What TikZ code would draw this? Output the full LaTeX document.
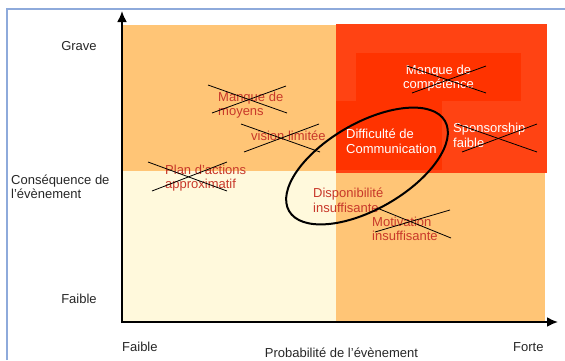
\documentclass[tikz,border=0pt]{standalone}
\usepackage{fontspec}
\setmainfont{Liberation Sans}
\usetikzlibrary{arrows.meta,calc}
\definecolor{frameblue}{HTML}{8EAADB}
\definecolor{lowrisk}{HTML}{FFF9DC}
\definecolor{midrisk}{HTML}{FFC576}
\definecolor{highrisk}{HTML}{FF4313}
\definecolor{topfill}{HTML}{FF3300}
\definecolor{riskred}{HTML}{C8382A}
\begin{document}
\begin{tikzpicture}[x=1pt,y=-1pt,>={Latex[length=11pt,width=10pt]},
  lbl/.style={font=\fontsize{13}{14.5}\selectfont,inner sep=0,align=left,
    anchor=base west},
  risk/.style={lbl,text=riskred},
  hot/.style={lbl,text=white},
  axlbl/.style={lbl,text=black!85},
  strike/.style={draw=black,line width=.8pt},
  axis/.style={->,line width=2pt}]
\useasboundingbox (0,0) rectangle (565,360);

% ============ FRAME ============
\draw[frameblue,line width=1.5pt] (7,360) -- (7,9) -- (565,9);

% ============ QUADRANTS ============
\fill[midrisk] (123,25) rectangle (336,171);
\fill[lowrisk] (123,171) rectangle (336,321);
\fill[highrisk] (336,24) rectangle (547,173);
\fill[midrisk] (336,173) rectangle (545,321);
\fill[topfill] (356,53) rectangle (521,101);
\fill[topfill] (336,101) rectangle (442,170);

% ============ AXES ============
\coordinate (o) at (122,323);
\coordinate (ytop) at (122,11);
\coordinate (xend) at (558,322);
\draw[axis] (o) -- (ytop);
\draw[axis] ($(o)+(-1,-1)$) -- (xend);
\node[axlbl,anchor=base] (grave) at (79,50.5) {Grave};
\node[axlbl] (csq) at (11,198.5) {Conséquence de\\l’évènement};
\node[axlbl,anchor=base] (yfaible) at (79,303) {Faible};
\node[axlbl] (xfaible) at (122,351) {Faible};
\node[axlbl,anchor=base] (proba) at (341.5,357) {Probabilité de l’évènement};
\node[axlbl] (forte) at (513,351.5) {Forte};

% ============ RISKS ============
% (multi-line nodes sit on the baseline of their last line)
\node[risk] (moyens) at (218,115.5) {Manque de\\moyens};
\node[risk] (vision) at (251,140) {vision limitée};
\node[risk] (plan) at (165,188.5) {Plan d’actions\\approximatif};
\node[hot,align=center,anchor=base] (compet) at (438.5,88.5) {Manque de\\compétence};
\node[hot] (commu) at (346,153) {Difficulté de\\Communication};
\node[hot] (sponso) at (453,147) {Sponsorship\\faible};
\node[risk] (dispo) at (313,212) {Disponibilité\\insuffisante};
\node[risk] (motiv) at (372,240.5) {Motivation\\insuffisante};

% crossed-out risks
\foreach \ax/\ay/\bx/\by in {208/85/287/113, 212/113/286/86,
  241/124/320/152, 244/152/319/124, 148/162/227/191, 152/191/227/162,
  407/66/486/93, 412/93/486/66, 457/124/537/152, 462/152/537/124,
  377/208/451/238, 375/232/450/210}
  \draw[strike] (\ax,\ay) -- (\bx,\by);

% ============ FOCUS ============
\draw[line width=2pt,rotate around={30:(367,166)}] (367,166)
  ellipse [x radius=90,y radius=43];
\end{tikzpicture}
\end{document}
